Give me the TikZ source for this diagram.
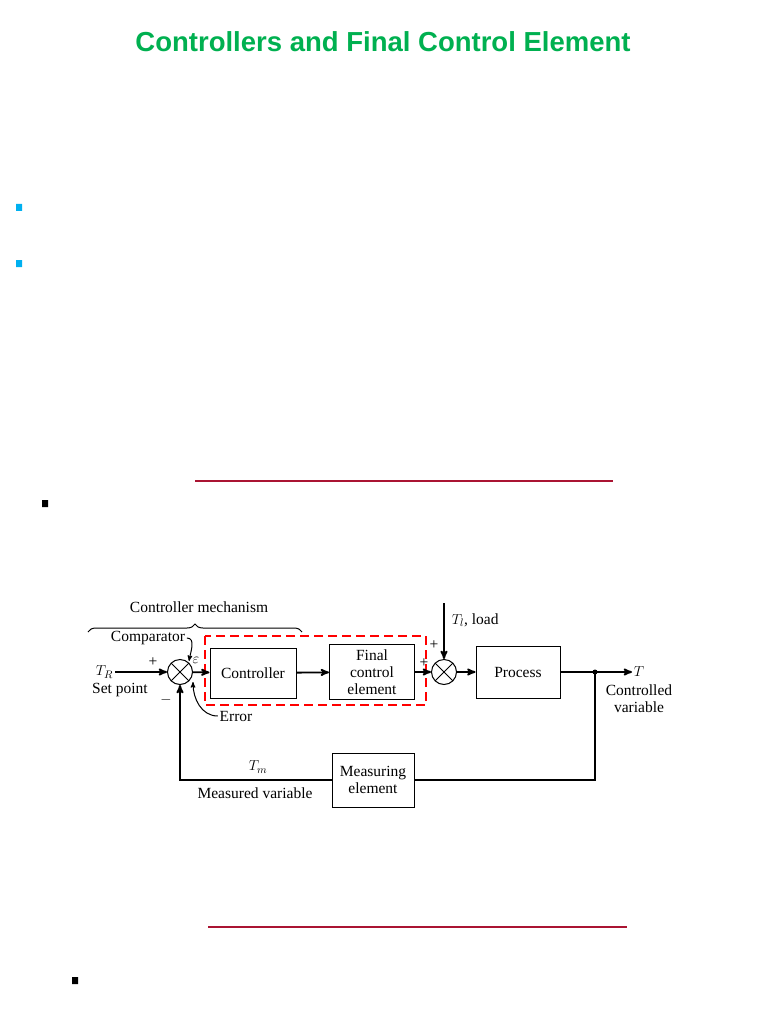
\documentclass[tikz,border=0pt]{standalone}
\usepackage{fontspec}
\setmainfont{Liberation Serif}
\newfontfamily\titlefont{Liberation Sans}
\usetikzlibrary{arrows,positioning,decorations.pathreplacing}
\begin{document}
\begin{tikzpicture}[x=1pt,y=-1pt,->,>=stealth',line width=1.8pt,
	block/.style={draw,line width=1pt,minimum width=#1,font=\fontsize{15.5}{17}\selectfont,align=center,inner sep=1pt},
	sum/.style={circle,draw,line width=1pt,minimum size=25pt,inner sep=0pt,path picture={\draw[-,line width=1pt] (path picture bounding box.north west)--(path picture bounding box.south east) (path picture bounding box.north east)--(path picture bounding box.south west);}},
	lbl/.style={font=\fontsize{15.5}{17}\selectfont,align=center,inner sep=1pt}]
	
	\definecolor{titlegreen}{RGB}{0,176,80}
	\definecolor{bulletblue}{RGB}{0,176,240}
	\definecolor{rulered}{RGB}{170,20,50}
	
	\useasboundingbox (0,0) rectangle (768,1024);
	
	% slide
	\node[font=\titlefont\bfseries\fontsize{27.5}{30}\selectfont,text=titlegreen] (title) at (383,42) {Controllers and Final Control Element};
	\fill[bulletblue] (16,204) rectangle (22,211) (16,260) rectangle (22,267);
	\draw[-,rulered,line width=1.5pt] (195,481) -- (613,481);
	\draw[-,rulered,line width=1.5pt] (208,927) -- (627,927);
	\fill[black] (42,500) rectangle (48,507) (72,977) rectangle (78,984);
	
	% blocks
	\node[sum] (s1) at (180,672) {};
	\node[block=86pt,minimum height=50pt] (ctrl) at (253,673) {Controller};
	\node[block=85pt,minimum height=55pt] (fce) at (372,672) {Final\\control\\element};
	\node[sum] (s2) at (444,672) {};
	\node[block=84pt,minimum height=52pt] (proc) at (518,672) {Process};
	\node[block=82pt,minimum height=54pt] (meas) at (373,780) {Measuring\\element};
	\coordinate (tr) at (115,672);
	\coordinate (br) at (595,672);
	\coordinate (tout) at (632,672);
	\coordinate (load) at (444,603);
	
	\draw[red,dash pattern=on 9pt off 5pt,line width=2.5pt,-] (205,636) rectangle (426,705);
	
	% connectors
	\draw (tr) -- (s1);
	\draw (s1) -- (ctrl);
	\draw (ctrl) -- (fce);
	\draw (fce) -- (s2);
	\draw (s2) -- (proc);
	\draw (proc) -- (tout);
	\draw (load) -- (s2);
	\draw[-] (br) |- (meas);
	\draw (meas) -| (s1);
	\fill (br) circle (2.5pt);
	
	% labels
	\node[lbl,anchor=east] (trl) at (tr) {$T_R$};
	\node[lbl] (sp) at (120,690) {Set point};
	\node[lbl] (p1) at (153,662) {+};
	\node[lbl] (m1) at (166,700) {$-$};
	\node[lbl] (eps) at (196,660) {$\varepsilon$};
	\node[lbl,anchor=west] (tl) at (450,620) {$T_l$, load};
	\node[lbl] (p2) at (434,645) {+};
	\node[lbl] (p3) at (424,663) {+};
	\node[lbl,anchor=west] (tt) at (tout) {$T$};
	\node[lbl] (cv) at (639,699) {Controlled\\variable};
	\node[lbl] (tm) at (258,767) {$T_m$};
	\node[lbl] (mv) at (255,793) {Measured variable};
	\node[lbl] (err) at (236,716) {Error};
	\node[lbl] (cmp) at (148,638) {Comparator};
	\node[lbl] (cm) at (199,607) {Controller mechanism};
	\draw[line width=1pt] (err.west) to[out=180,in=-90] (193,682);
	\draw[line width=1pt] (cmp.east) to[out=0,in=80] (189,661);
	\draw[-,line width=1pt,decorate,decoration={brace,amplitude=8pt}] (88,632) -- (302,632);
\end{tikzpicture}
\end{document}
